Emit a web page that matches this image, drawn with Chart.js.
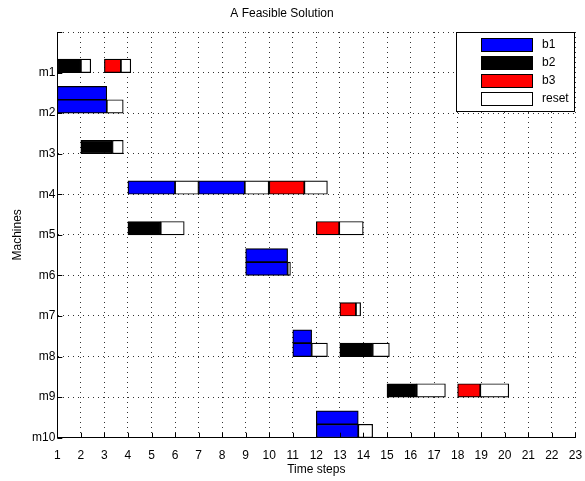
<!DOCTYPE html>
<html><head><meta charset="utf-8">
<script src="https://cdn.jsdelivr.net/npm/chart.js@4"></script>
<style>html,body{margin:0;padding:0;background:#fff}</style>
</head><body>
<canvas id="c" width="585" height="481"></canvas>
<script>
// ---- data ----
const machineLabels = ['m1','m2','m3','m4','m5','m6','m7','m8','m9','m10'];
const timeMin = 1, timeMax = 23;

const b1Machine = [2, 2, 4, 4, 6, 6, 8, 8, 10, 10];
const b1Lane    = [0, 1, 0, 0, 0, 1, 0, 1, 0, 1];
const b1Start   = [1, 1, 4, 7, 9, 9, 11, 11, 12, 12];
const b1End     = [3.1, 3.1, 6.0, 8.96, 10.78, 10.78, 11.8, 11.8, 13.78, 13.78];

const b2Machine = [1, 3, 5, 8, 9];
const b2Lane    = [0, 0, 0, 0, 0];
const b2Start   = [1, 2, 4, 13, 15];
const b2End     = [2.0, 3.34, 5.39, 14.39, 16.26];

const b3Machine = [1, 4, 5, 7, 9];
const b3Lane    = [0, 0, 0, 0, 0];
const b3Start   = [3, 10, 12, 13, 18];
const b3End     = [3.7, 11.49, 12.97, 13.68, 18.96];

const resetMachine = [1, 1, 2, 3, 4, 4, 4, 5, 5, 6, 7, 8, 8, 9, 9, 10];
const resetLane    = [0, 0, 0, 0, 0, 0, 0, 0, 0, 0, 0, 0, 0, 0, 0, 0];
const resetStart   = [2.0, 3.7, 3.1, 3.34, 6.0, 8.96, 11.49, 5.39, 12.97, 10.78, 13.68, 11.8, 14.39, 16.26, 18.96, 13.78];
const resetEnd     = [2.42, 4.12, 3.8, 3.8, 7.0, 9.98, 12.47, 6.39, 13.99, 10.9, 13.88, 12.47, 15.1, 17.48, 20.17, 14.39];

// ---- presentation ----
const LANE = 0.33; // height of one lane in machine units
const FONT = '"Liberation Sans", Arial, Helvetica, sans-serif';

function build(machine, lane, start, end) {
  return machine.map((m, i) => ({ y: m - (lane[i] + 0.5) * LANE, x: [start[i], end[i]] }));
}

function barDs(label, color, machine, lane, start, end) {
  return {
    label, data: build(machine, lane, start, end),
    backgroundColor: color, borderColor: '#000', borderWidth: 1.2,
    borderSkipped: false, grouped: false, barThickness: 13.4
  };
}

Chart.defaults.font.family = FONT;
Chart.defaults.font.size = 12;
Chart.defaults.color = '#000';

const titlePlugin = {
  id: 'topTitle',
  afterDraw(chart) {
    const ctx = chart.ctx;
    ctx.save();
    ctx.font = '12px ' + FONT;
    ctx.fillStyle = '#000';
    ctx.textAlign = 'center';
    ctx.textBaseline = 'middle';
    ctx.fillText('A Feasible Solution', 282, 14);
    ctx.restore();
  }
};

const tickPlugin = {
  id: 'innerTicks',
  afterDatasetsDraw(chart) {
    const {ctx, chartArea, scales} = chart;
    ctx.save();
    ctx.strokeStyle = '#000';
    ctx.lineWidth = 1;
    ctx.beginPath();
    scales.x.ticks.forEach(t => {
      const px = Math.round(scales.x.getPixelForValue(t.value)) + 0.5;
      ctx.moveTo(px, chartArea.bottom);
      ctx.lineTo(px, chartArea.bottom - 5);
    });
    scales.y.ticks.forEach(t => {
      const py = Math.round(scales.y.getPixelForValue(t.value)) + 0.5;
      ctx.moveTo(chartArea.left, py);
      ctx.lineTo(chartArea.left + 5, py);
    });
    ctx.stroke();
    ctx.restore();
  }
};

const legendPlugin = {
  id: 'boxLegend',
  afterDraw(chart) {
    const {ctx, chartArea} = chart;
    const w = 119, h = 80;
    const x0 = Math.round(chartArea.right - w), y0 = Math.round(chartArea.top);
    ctx.save();
    ctx.fillStyle = '#fff';
    ctx.fillRect(x0, y0, w, h);
    ctx.strokeStyle = '#000';
    ctx.lineWidth = 1;
    ctx.strokeRect(x0 + 0.5, y0 + 0.5, w - 1, h - 1);
    ctx.font = '12px ' + FONT;
    ctx.textBaseline = 'middle';
    chart.data.datasets.forEach((ds, i) => {
      const sy = y0 + 6 + i * 18;
      ctx.fillStyle = ds.backgroundColor;
      ctx.fillRect(x0 + 25, sy, 52, 14);
      ctx.strokeRect(x0 + 25.5, sy + 0.5, 51, 13);
      ctx.fillStyle = '#000';
      ctx.fillText(ds.label, x0 + 86, sy + 7);
    });
    ctx.restore();
  }
};

new Chart(document.getElementById('c'), {
  type: 'bar',
  data: {
    datasets: [
      barDs('b1', '#0000ff', b1Machine, b1Lane, b1Start, b1End),
      barDs('b2', '#000000', b2Machine, b2Lane, b2Start, b2End),
      barDs('b3', '#ff0000', b3Machine, b3Lane, b3Start, b3End),
      barDs('reset', '#ffffff', resetMachine, resetLane, resetStart, resetEnd)
    ]
  },
  options: {
    indexAxis: 'y',
    responsive: false,
    animation: false,
    layout: { padding: { top: 32, right: 9.6, left: 0, bottom: 0 } },
    plugins: { legend: { display: false }, tooltip: { enabled: false }, title: { display: false } },
    scales: {
      x: {
        type: 'linear', min: timeMin, max: timeMax, offset: false,
        ticks: { stepSize: 1, padding: 11, maxRotation: 0, autoSkip: false },
        grid: { color: '#333', lineWidth: 1, drawTicks: false, offset: false },
        border: { display: true, color: '#000', width: 1, dash: [1, 4] },
        title: { display: true, text: 'Time steps', padding: { top: 0, bottom: 4 } },
        afterFit(s) { s.height = 43.3; s.paddingLeft = 0; s.paddingRight = 0; }
      },
      y: {
        type: 'linear', reverse: true, min: 0, max: machineLabels.length, offset: false,
        ticks: { stepSize: 1, padding: 2, autoSkip: false,
          callback: v => (v >= 1 ? machineLabels[v - 1] : '') },
        grid: { color: '#333', lineWidth: 1, drawTicks: false, offset: false },
        border: { display: true, color: '#000', width: 1, dash: [1, 4] },
        title: { display: true, text: 'Machines', padding: { top: 10, bottom: 0 } },
        afterFit(s) { s.width = 57.3; s.paddingTop = 0; s.paddingBottom = 0; }
      }
    }
  },
  plugins: [titlePlugin, tickPlugin, legendPlugin]
});
</script>
</body></html>
